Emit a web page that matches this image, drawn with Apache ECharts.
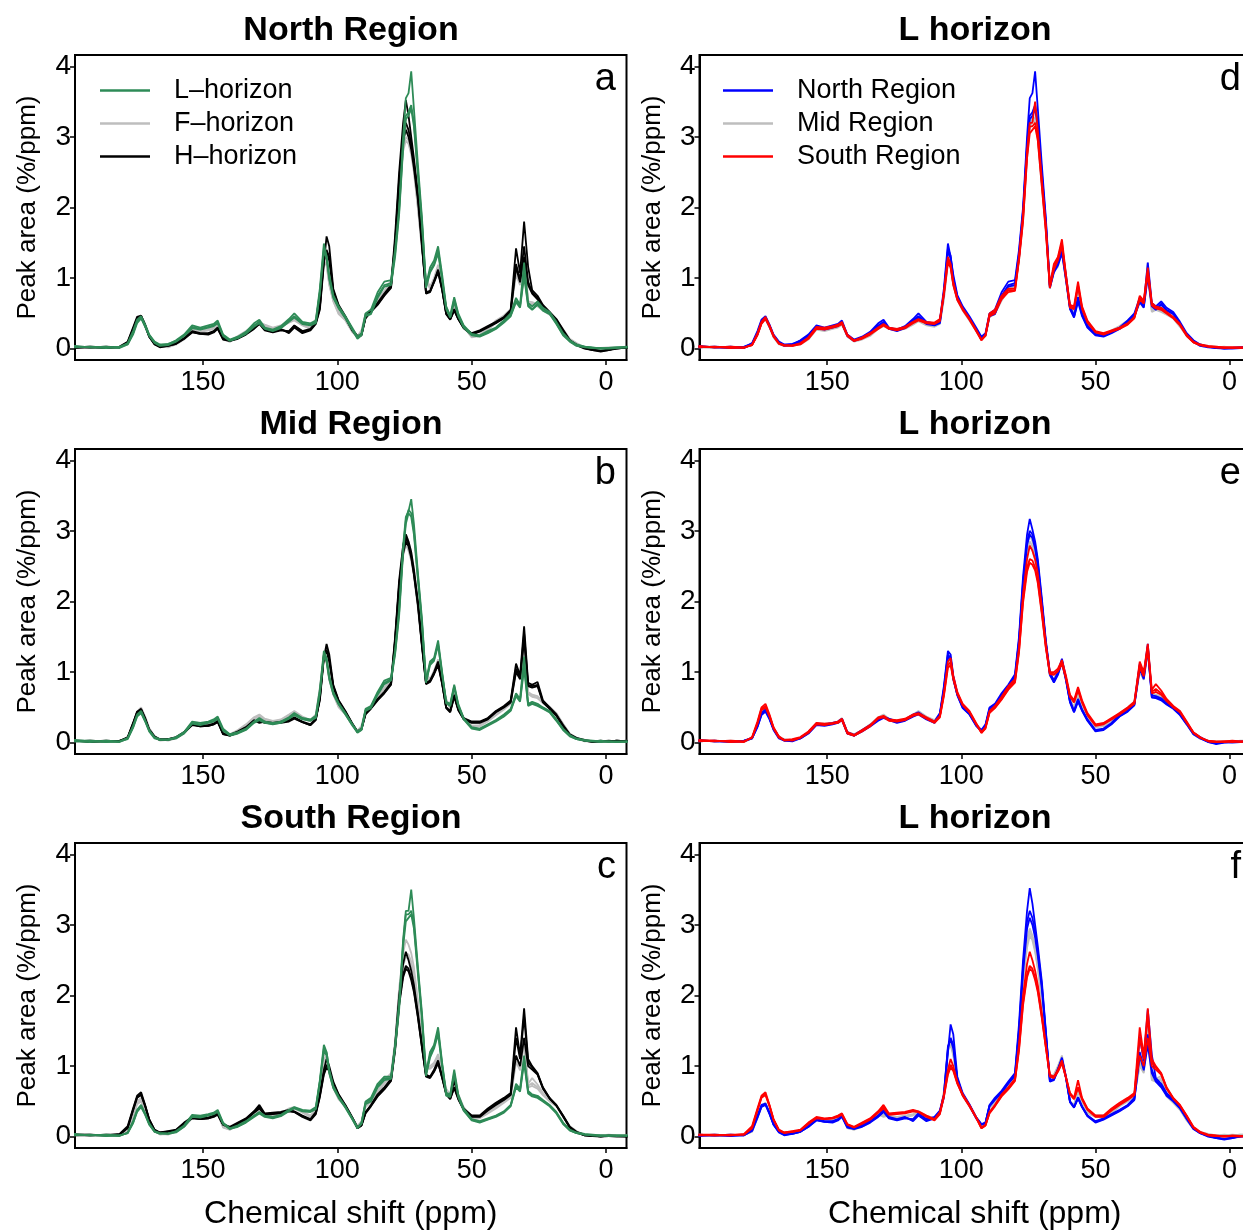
<!DOCTYPE html>
<html><head><meta charset="utf-8">
<script src="https://cdn.jsdelivr.net/npm/echarts@6/dist/echarts.min.js"></script>
<style>html,body{margin:0;padding:0;background:#fff}#c{width:1243px;height:1232px}</style>
</head><body><div id="c"></div><script>
// chemical shift grid (ppm)
const ppm = [198,192,186,181,178,176,174.5,173,171.5,170,168,166,163,160,157,154,151,148,146,144.5,142.5,140,
 137,134,131,129,127,124,121,118,116,113,110,108,106.5,105,104,103,101.5,99.5,97,94.5,92.5,91,
 89.5,87.5,85,82.5,80,78.5,77,75.5,74.5,73.5,72.5,71.5,70,68.5,67,65.5,64,62.5,61,59.5,58,56.5,55,53,
 50,47,44,41,38,35.5,33.5,32,30.5,29,27.5,25.5,23.5,21,18.5,16,13.5,11,8,5,2,-1,-4,-8];

const northL = [
 [.03,.02,.01,.02,.08,.25,.41,.46,.34,.20,.10,.06,.06,.12,.20,.33,.30,.33,.35,.40,.20,.13,
  .17,.24,.36,.41,.30,.27,.32,.42,.50,.38,.36,.40,.85,1.49,1.30,1.05,.76,.60,.46,.30,.17,.22,
  .50,.55,.80,.95,.97,1.40,2.00,3.00,3.55,3.62,3.93,3.40,2.60,1.85,.90,1.15,1.25,1.45,1.05,.60,.47,.73,.50,.33,
  .21,.19,.25,.30,.40,.50,.72,.62,1.22,.65,.60,.67,.58,.52,.38,.22,.12,.06,.03,.02,.00,.01,.02,.03],
 [.02,.03,.02,.03,.07,.22,.38,.44,.33,.19,.09,.05,.07,.11,.19,.31,.28,.31,.33,.37,.19,.12,
  .16,.22,.33,.38,.29,.26,.30,.40,.46,.36,.34,.38,.80,1.42,1.32,1.00,.74,.58,.44,.28,.15,.20,
  .48,.50,.75,.90,.93,1.35,1.95,2.90,3.30,3.35,3.45,3.20,2.50,1.80,.88,1.10,1.20,1.40,1.00,.58,.45,.70,.48,.31,
  .20,.18,.23,.29,.38,.47,.68,.60,1.08,.62,.56,.64,.55,.50,.36,.20,.11,.05,.03,.01,.01,.00,.01,.02],
 [.04,.02,.03,.01,.06,.20,.36,.43,.31,.18,.08,.04,.05,.10,.18,.29,.27,.30,.32,.36,.18,.11,
  .15,.21,.31,.36,.28,.25,.29,.38,.44,.35,.33,.36,.78,1.38,1.28,.98,.72,.57,.43,.27,.14,.19,
  .46,.49,.72,.88,.90,1.30,1.90,2.85,3.25,3.30,3.40,3.15,2.45,1.75,.86,1.08,1.18,1.35,.98,.56,.44,.66,.46,.30,
  .19,.17,.22,.28,.37,.46,.66,.58,1.02,.60,.55,.62,.54,.49,.35,.19,.10,.04,.02,.01,.00,.01,.02,.02]
];
const midL = [
 [.04,.02,.01,.02,.07,.24,.40,.45,.32,.18,.08,.05,.04,.08,.15,.30,.28,.30,.33,.37,.20,.12,
  .15,.20,.30,.35,.30,.28,.30,.36,.42,.35,.33,.38,.75,1.30,1.20,.95,.72,.56,.42,.27,.16,.20,
  .48,.52,.72,.88,.92,1.30,1.90,2.80,3.20,3.28,3.45,3.10,2.40,1.75,.88,1.15,1.20,1.45,1.00,.58,.55,.82,.55,.35,
  .22,.20,.26,.32,.40,.48,.70,.62,1.22,.55,.58,.55,.50,.45,.33,.20,.11,.06,.04,.03,.02,.02,.01,.02],
 [.03,.03,.02,.01,.06,.22,.38,.43,.31,.17,.07,.04,.05,.07,.14,.28,.26,.29,.31,.35,.18,.11,
  .14,.19,.29,.33,.29,.27,.29,.35,.40,.34,.32,.36,.72,1.25,1.18,.92,.70,.55,.41,.26,.15,.19,
  .46,.50,.70,.85,.90,1.28,1.85,2.75,3.15,3.30,3.25,3.00,2.35,1.70,.86,1.12,1.18,1.40,.98,.57,.53,.80,.53,.34,
  .21,.19,.25,.31,.38,.46,.68,.60,1.12,.54,.56,.53,.49,.44,.32,.19,.10,.05,.03,.02,.03,.01,.02,.01],
 [.02,.01,.03,.02,.05,.21,.37,.42,.30,.16,.06,.04,.04,.06,.13,.27,.25,.28,.30,.34,.17,.10,
  .13,.18,.28,.32,.28,.26,.28,.34,.39,.33,.31,.35,.70,1.22,1.15,.90,.69,.54,.40,.25,.14,.18,
  .45,.49,.68,.83,.88,1.25,1.80,2.70,3.10,3.25,3.20,2.95,2.30,1.68,.85,1.10,1.16,1.38,.96,.56,.52,.78,.52,.33,
  .20,.18,.24,.30,.37,.45,.66,.58,1.05,.52,.55,.52,.48,.43,.31,.18,.09,.05,.03,.02,.01,.02,.01,.02]
];
const southL = [
 [.03,.02,.02,.01,.06,.22,.38,.45,.33,.19,.08,.05,.04,.08,.16,.31,.30,.32,.34,.38,.20,.12,
  .16,.22,.30,.35,.30,.28,.31,.38,.42,.38,.37,.42,.80,1.30,1.20,.95,.72,.57,.43,.27,.13,.20,
  .50,.55,.75,.85,.85,1.30,1.90,2.80,3.20,3.20,3.50,3.10,2.40,1.75,.90,1.20,1.30,1.55,1.05,.62,.60,.95,.60,.40,
  .25,.22,.26,.30,.36,.45,.75,.68,1.15,.65,.60,.58,.52,.45,.35,.20,.10,.06,.04,.03,.02,.02,.02,.01],
 [.02,.03,.01,.02,.05,.20,.36,.43,.32,.18,.07,.04,.05,.07,.15,.29,.28,.31,.33,.36,.19,.11,
  .15,.21,.29,.34,.29,.27,.30,.37,.41,.37,.36,.40,.78,1.25,1.18,.92,.70,.56,.42,.26,.12,.19,
  .48,.53,.72,.83,.83,1.28,1.85,2.75,3.15,3.15,3.20,3.00,2.35,1.70,.88,1.15,1.28,1.50,1.02,.60,.58,.90,.58,.38,
  .24,.21,.25,.29,.35,.44,.72,.66,1.10,.63,.58,.57,.51,.44,.34,.19,.09,.05,.03,.02,.02,.01,.02,.02],
 [.04,.02,.03,.02,.05,.19,.35,.42,.31,.17,.07,.05,.04,.06,.14,.28,.27,.30,.32,.35,.18,.11,
  .14,.20,.28,.33,.28,.26,.29,.36,.40,.36,.35,.39,.76,1.22,1.15,.90,.69,.55,.41,.25,.12,.18,
  .46,.50,.70,.80,.82,1.25,1.80,2.70,3.05,3.10,3.15,2.95,2.30,1.65,.86,1.12,1.25,1.45,1.00,.58,.56,.88,.56,.37,
  .23,.20,.24,.28,.34,.43,.70,.64,1.05,.61,.57,.55,.50,.43,.33,.18,.09,.05,.03,.02,.01,.02,.01,.02]
];
const northF = [
 [.03,.02,.02,.03,.07,.25,.42,.47,.35,.20,.08,.03,.03,.07,.15,.27,.26,.28,.30,.34,.15,.11,
  .18,.25,.33,.37,.34,.30,.33,.40,.43,.35,.30,.42,.80,1.30,1.25,.95,.70,.52,.42,.26,.18,.26,
  .50,.55,.70,.82,.97,1.50,2.35,2.95,3.17,3.02,2.85,2.60,2.05,1.45,1.00,.88,1.00,1.19,.92,.60,.45,.62,.47,.33,
  .18,.20,.28,.40,.47,.56,1.12,.95,1.40,.67,.66,.63,.56,.50,.42,.28,.14,.08,.02,-.01,.01,.02,.01,.02],
 [.02,.03,.01,.02,.06,.23,.40,.45,.34,.19,.07,.04,.04,.06,.14,.26,.25,.27,.29,.33,.14,.10,
  .17,.24,.32,.36,.33,.29,.32,.38,.41,.34,.29,.40,.76,1.25,1.20,.92,.68,.50,.41,.25,.17,.24,
  .48,.53,.68,.80,.94,1.45,2.28,2.85,3.00,2.95,2.80,2.55,2.00,1.42,.98,.86,.98,1.16,.90,.58,.44,.60,.46,.32,
  .17,.19,.27,.38,.45,.54,1.08,.92,1.36,.65,.64,.61,.55,.49,.40,.27,.13,.07,.01,-.02,.00,.01,.02,.01],
 [.04,.02,.02,.03,.06,.22,.39,.44,.33,.18,.06,.03,.02,.06,.13,.25,.24,.26,.28,.32,.13,.10,
  .16,.23,.31,.35,.32,.28,.31,.37,.40,.33,.28,.39,.74,1.22,1.18,.90,.67,.49,.40,.24,.16,.23,
  .47,.52,.66,.78,.92,1.42,2.22,2.80,2.95,2.90,2.75,2.50,1.98,1.40,.96,.85,.96,1.14,.88,.57,.43,.58,.45,.31,
  .16,.18,.26,.37,.44,.53,1.05,.90,1.32,.64,.63,.60,.54,.48,.39,.26,.12,.06,.01,-.01,.01,.00,.01,.02]
];
const midF = [
 [.03,.02,.03,.02,.07,.26,.44,.50,.37,.21,.09,.04,.04,.07,.15,.28,.27,.28,.30,.35,.15,.12,
  .18,.26,.36,.40,.34,.31,.33,.40,.45,.37,.32,.40,.78,1.25,1.20,.93,.70,.52,.42,.26,.17,.24,
  .46,.52,.66,.78,.92,1.45,2.25,2.80,2.95,2.85,2.70,2.48,1.98,1.42,.98,.90,1.02,1.18,.92,.62,.50,.70,.52,.36,
  .24,.25,.32,.42,.50,.58,1.10,.95,1.38,.72,.68,.66,.58,.51,.42,.27,.13,.07,.03,.01,.02,.01,.02,.03],
 [.02,.03,.02,.03,.06,.24,.42,.48,.36,.20,.08,.05,.03,.06,.14,.27,.26,.27,.29,.34,.14,.11,
  .17,.25,.35,.38,.33,.30,.32,.39,.43,.36,.31,.39,.75,1.20,1.16,.90,.69,.51,.41,.25,.16,.23,
  .45,.50,.64,.76,.90,1.40,2.18,2.70,2.85,2.78,2.62,2.40,1.92,1.38,.96,.88,1.00,1.15,.90,.60,.49,.68,.50,.35,
  .23,.24,.31,.40,.48,.56,1.04,.91,1.32,.70,.66,.64,.57,.50,.41,.26,.12,.06,.02,.02,.01,.02,.01,.02],
 [.04,.02,.02,.01,.06,.23,.41,.47,.35,.19,.08,.03,.04,.06,.13,.26,.25,.27,.29,.33,.13,.11,
  .16,.24,.34,.37,.32,.29,.31,.38,.42,.35,.30,.38,.73,1.18,1.14,.89,.68,.50,.40,.25,.16,.22,
  .44,.49,.63,.75,.88,1.38,2.12,2.65,2.80,2.72,2.58,2.36,1.90,1.36,.95,.87,.98,1.13,.89,.59,.48,.67,.49,.34,
  .22,.23,.30,.39,.47,.55,1.00,.89,1.28,.69,.65,.63,.56,.49,.40,.26,.12,.06,.03,.01,.02,.01,.03,.02]
];
const southF = [
 [.04,.03,.02,.01,.08,.30,.50,.55,.40,.22,.09,.04,.05,.08,.16,.28,.27,.28,.30,.34,.15,.11,
  .18,.25,.36,.38,.33,.32,.34,.40,.42,.36,.30,.38,.70,1.15,1.20,.95,.72,.55,.45,.28,.15,.22,
  .45,.52,.65,.80,.90,1.35,2.10,2.60,2.79,2.72,2.60,2.40,1.92,1.40,1.00,1.00,1.05,1.17,.95,.68,.60,.79,.60,.42,
  .26,.28,.35,.42,.50,.58,1.15,1.00,1.40,.75,.83,.74,.62,.52,.45,.30,.15,.08,.02,.01,.02,.03,.02,.01],
 [.03,.02,.03,.02,.07,.28,.48,.52,.38,.21,.08,.03,.04,.07,.15,.27,.26,.27,.29,.33,.14,.10,
  .17,.24,.35,.37,.32,.31,.33,.39,.41,.35,.29,.37,.68,1.10,1.14,.92,.70,.54,.44,.27,.14,.21,
  .43,.50,.62,.77,.87,1.30,2.02,2.48,2.60,2.58,2.48,2.30,1.85,1.36,.98,.97,1.02,1.14,.92,.66,.58,.76,.58,.40,
  .25,.27,.34,.41,.49,.56,1.10,.96,1.36,.72,.76,.70,.60,.51,.44,.29,.14,.07,.03,.02,.01,.02,.01,.02],
 [.02,.03,.01,.02,.07,.27,.46,.50,.37,.20,.07,.04,.03,.07,.14,.26,.25,.27,.28,.32,.13,.10,
  .16,.23,.34,.36,.31,.30,.32,.38,.40,.34,.28,.36,.66,1.06,1.10,.90,.69,.53,.43,.26,.14,.20,
  .42,.49,.61,.75,.85,1.28,1.98,2.42,2.55,2.52,2.44,2.26,1.82,1.34,.97,.96,1.01,1.12,.91,.65,.57,.74,.57,.39,
  .24,.26,.33,.40,.48,.55,1.06,.94,1.32,.70,.72,.68,.59,.50,.43,.28,.14,.07,.02,.01,.02,.01,.02,.01]
];
const northH = [
 [.02,.03,.02,.03,.10,.30,.45,.47,.34,.18,.07,.03,.05,.08,.15,.25,.22,.22,.25,.30,.15,.12,
  .16,.22,.30,.38,.28,.25,.28,.22,.30,.22,.26,.35,.55,1.20,1.59,1.45,.85,.62,.46,.28,.18,.20,
  .45,.55,.65,.78,.90,1.60,2.50,3.20,3.52,3.30,3.00,2.70,2.20,1.50,.78,.80,.95,1.12,.85,.50,.42,.55,.42,.30,
  .22,.26,.32,.38,.45,.55,1.42,1.07,1.80,1.16,.83,.75,.62,.52,.42,.27,.12,.06,.01,-.02,-.04,-.02,.00,.02],
 [.03,.02,.03,.02,.09,.28,.43,.46,.33,.17,.06,.02,.04,.07,.14,.24,.21,.21,.24,.29,.14,.11,
  .15,.21,.29,.36,.27,.24,.27,.24,.32,.24,.27,.36,.58,1.25,1.40,1.30,.82,.60,.45,.27,.17,.20,
  .44,.53,.63,.76,.88,1.52,2.40,3.05,3.20,3.10,2.90,2.62,2.15,1.48,.80,.82,.96,1.10,.84,.50,.42,.56,.43,.30,
  .21,.25,.31,.37,.44,.53,1.20,.98,1.45,.95,.80,.72,.60,.51,.41,.26,.12,.05,.01,-.01,-.03,-.02,.01,.01],
 [.01,.02,.01,.02,.08,.27,.42,.45,.32,.17,.07,.03,.04,.07,.14,.23,.21,.20,.23,.28,.13,.11,
  .14,.20,.28,.35,.26,.23,.26,.25,.33,.25,.28,.37,.60,1.28,1.38,1.25,.80,.59,.44,.26,.17,.19,
  .43,.52,.62,.75,.86,1.48,2.32,2.95,3.10,3.00,2.82,2.56,2.10,1.45,.79,.81,.94,1.08,.83,.49,.41,.54,.42,.29,
  .20,.24,.30,.36,.43,.52,1.15,.94,1.30,.90,.78,.70,.58,.50,.40,.25,.11,.05,.00,-.02,-.03,-.01,.00,.02]
];
const midH = [
 [.03,.02,.03,.02,.08,.28,.44,.48,.35,.19,.09,.05,.05,.08,.15,.27,.24,.25,.27,.31,.13,.11,
  .16,.22,.32,.28,.30,.28,.30,.32,.36,.30,.26,.34,.60,1.20,1.40,1.25,.82,.60,.45,.28,.16,.20,
  .42,.50,.62,.72,.85,1.50,2.30,2.80,2.95,2.85,2.70,2.45,2.00,1.40,.85,.88,1.00,1.15,.85,.50,.45,.68,.48,.35,
  .30,.30,.35,.45,.52,.60,1.12,.95,1.65,.85,.82,.86,.60,.50,.40,.25,.12,.07,.04,.02,.03,.02,.03,.02],
 [.02,.03,.02,.03,.07,.27,.43,.47,.34,.18,.08,.04,.04,.07,.14,.26,.23,.24,.26,.30,.12,.10,
  .15,.21,.31,.30,.29,.27,.29,.31,.35,.29,.25,.33,.62,1.22,1.32,1.18,.80,.59,.44,.27,.15,.19,
  .41,.49,.61,.71,.83,1.46,2.24,2.72,2.90,2.82,2.65,2.40,1.96,1.38,.84,.87,.98,1.12,.84,.50,.44,.66,.47,.34,
  .29,.29,.34,.44,.51,.58,1.05,.92,1.55,.82,.80,.82,.58,.49,.39,.24,.11,.06,.03,.02,.02,.03,.02,.03],
 [.03,.01,.02,.02,.07,.26,.42,.46,.33,.18,.08,.04,.05,.07,.14,.25,.23,.24,.26,.29,.12,.10,
  .14,.20,.30,.31,.28,.27,.28,.30,.34,.29,.25,.32,.64,1.24,1.30,1.15,.79,.58,.43,.27,.15,.19,
  .40,.48,.60,.70,.82,1.44,2.20,2.68,2.85,2.78,2.62,2.38,1.94,1.36,.83,.86,.97,1.10,.83,.49,.43,.65,.46,.33,
  .28,.28,.33,.43,.50,.57,1.00,.90,1.45,.80,.78,.80,.57,.48,.38,.23,.11,.06,.03,.01,.02,.02,.03,.02]
];
const southH = [
 [.03,.03,.02,.04,.15,.40,.58,.63,.45,.25,.10,.06,.08,.10,.20,.28,.26,.27,.30,.33,.18,.14,
  .20,.26,.36,.45,.33,.34,.35,.38,.36,.30,.25,.35,.60,.95,1.10,1.00,.78,.60,.45,.28,.13,.17,
  .35,.45,.60,.70,.82,1.30,2.00,2.45,2.62,2.50,2.35,2.15,1.75,1.30,.88,.85,.95,1.08,.85,.62,.55,.80,.55,.40,
  .30,.30,.40,.48,.55,.62,1.55,1.15,1.82,1.10,1.00,.90,.70,.55,.45,.30,.14,.07,.03,.02,.00,.02,.01,.00],
 [.02,.02,.03,.03,.13,.38,.56,.60,.44,.24,.09,.05,.07,.09,.19,.27,.25,.26,.29,.32,.17,.13,
  .19,.25,.35,.42,.32,.33,.34,.37,.35,.29,.24,.33,.58,.90,1.02,.95,.76,.59,.44,.27,.12,.16,
  .34,.44,.58,.68,.80,1.25,1.90,2.30,2.42,2.38,2.25,2.08,1.70,1.27,.86,.84,.93,1.05,.84,.61,.54,.70,.54,.39,
  .29,.29,.38,.46,.53,.60,1.15,1.00,1.40,1.00,.95,.88,.68,.54,.44,.29,.13,.06,.02,.01,.01,.01,.00,.01],
 [.03,.02,.02,.03,.12,.37,.55,.59,.43,.24,.09,.06,.07,.09,.18,.26,.25,.26,.28,.31,.17,.13,
  .18,.24,.34,.40,.31,.32,.33,.36,.35,.28,.23,.32,.56,.88,.98,.93,.75,.58,.43,.27,.12,.16,
  .33,.43,.57,.67,.79,1.22,1.86,2.26,2.38,2.34,2.22,2.05,1.68,1.26,.85,.83,.92,1.04,.83,.60,.53,.69,.53,.38,
  .28,.28,.37,.45,.52,.59,1.40,1.10,1.70,1.05,.98,.89,.69,.54,.44,.29,.13,.06,.02,.01,.00,.01,.01,.00]
];

const xTicks = [0, 50, 100, 150];
const yTicks = [0, 1, 2, 3, 4];
const horizonNames = ['L\u2013horizon', 'F\u2013horizon', 'H\u2013horizon'];
const regionNames = ['North Region', 'Mid Region', 'South Region'];
const panelTitles = ['North Region', 'Mid Region', 'South Region', 'L horizon', 'L horizon', 'L horizon'];
const panelLetters = ['a', 'b', 'c', 'd', 'e', 'f'];

const C_L = '#2E8B57', C_F = '#BEBEBE', C_H = '#000000';
const C_N = '#0000FF', C_M = '#BEBEBE', C_S = '#FF0000';

// drawing order per panel: first drawn is underneath
const panels = [
  [[northF, horizonNames[1], C_F], [northH, horizonNames[2], C_H], [northL, horizonNames[0], C_L]],
  [[midF, horizonNames[1], C_F], [midH, horizonNames[2], C_H], [midL, horizonNames[0], C_L]],
  [[southF, horizonNames[1], C_F], [southH, horizonNames[2], C_H], [southL, horizonNames[0], C_L]],
  [[midL, regionNames[1], C_M], [northL, regionNames[0], C_N], [southL, regionNames[2], C_S]],
  [[midF, regionNames[1], C_M], [northF, regionNames[0], C_N], [southF, regionNames[2], C_S]],
  [[midH, regionNames[1], C_M], [northH, regionNames[0], C_N], [southH, regionNames[2], C_S]]
];

const FONT = "'Liberation Sans', Arial, Helvetica, sans-serif";
const colLeft = [75, 699.5], colWidth = [551.5, 550.5];
const rowTop = [55, 449, 843], rowH = 305;

const grids = [], xAxes = [], yAxes = [], series = [], graphics = [];
for (let p = 0; p < 6; p++) {
  const col = p < 3 ? 0 : 1, row = p % 3;
  grids.push({ left: colLeft[col], top: rowTop[row], width: colWidth[col], height: rowH,
    show: true, borderColor: '#000', borderWidth: 2, containLabel: false, outerBoundsMode: 'none' });
  const bottom = row === 2;
  xAxes.push({ gridIndex: p, type: 'value', inverse: true, min: -7.6, max: 197.6, position: 'bottom',
    axisLine: { show: true, onZero: false, lineStyle: { color: '#000', width: 2 } },
    splitLine: { show: false },
    axisTick: { show: true, inside: false, length: 5, customValues: xTicks, lineStyle: { color: '#000', width: 1.5 } },
    axisLabel: { customValues: xTicks, fontSize: 27, color: '#000', margin: 9, fontFamily: FONT },
    name: bottom ? 'Chemical shift (ppm)' : '', nameLocation: 'middle', nameGap: 50,
    nameTextStyle: { fontSize: 32, color: '#000', fontFamily: FONT } });
  yAxes.push({ gridIndex: p, type: 'value', min: -0.16, max: 4.16, position: 'left',
    axisLine: { show: true, onZero: false, lineStyle: { color: '#000', width: 2 } },
    splitLine: { show: false },
    axisTick: { show: true, inside: false, length: 5, customValues: yTicks, lineStyle: { color: '#000', width: 1.5 } },
    axisLabel: { customValues: yTicks, fontSize: 28, color: '#000', margin: 4, fontFamily: FONT },
    name: 'Peak area (%/ppm)', nameLocation: 'middle', nameGap: 34,
    nameTextStyle: { fontSize: 26, color: '#000', fontFamily: FONT } });
  panels[p].forEach(([reps, name, color]) => {
    reps.forEach(rep => {
      if (rep.length !== ppm.length) throw new Error('length mismatch ' + name + ' ' + rep.length);
      series.push({ type: 'line', name, xAxisIndex: p, yAxisIndex: p, symbol: 'none',
        data: ppm.map((x, i) => [x, rep[i]]), clip: true, silent: true,
        lineStyle: { color, width: 1.8 }, itemStyle: { color } });
    });
  });
  graphics.push({ type: 'text', x: col === 0 ? 351 : 975, y: rowTop[row] - 24,
    style: { text: panelTitles[p], font: 'bold 34px ' + FONT, fill: '#000', textAlign: 'center', textVerticalAlign: 'middle' } });
  graphics.push({ type: 'text', x: col === 0 ? 616 : 1241, y: rowTop[row] + 25,
    style: { text: panelLetters[p], font: '38px ' + FONT, fill: '#000', textAlign: 'right', textVerticalAlign: 'middle' } });
}

const legendBase = { orient: 'vertical', top: 69, itemWidth: 50, itemHeight: 2.5, icon: 'rect', itemGap: 0,
  selectedMode: false, textStyle: { fontSize: 27, color: '#000', fontFamily: FONT, lineHeight: 33, padding: [0, 0, 0, 19] } };

const chart = echarts.init(document.getElementById('c'), null, { renderer: 'canvas' });
chart.setOption({
  animation: false,
  backgroundColor: '#fff',
  grid: grids, xAxis: xAxes, yAxis: yAxes, series,
  legend: [
    Object.assign({}, legendBase, { left: 95, data: horizonNames }),
    Object.assign({}, legendBase, { left: 718, data: regionNames })
  ],
  graphic: graphics
});
</script></body></html>
